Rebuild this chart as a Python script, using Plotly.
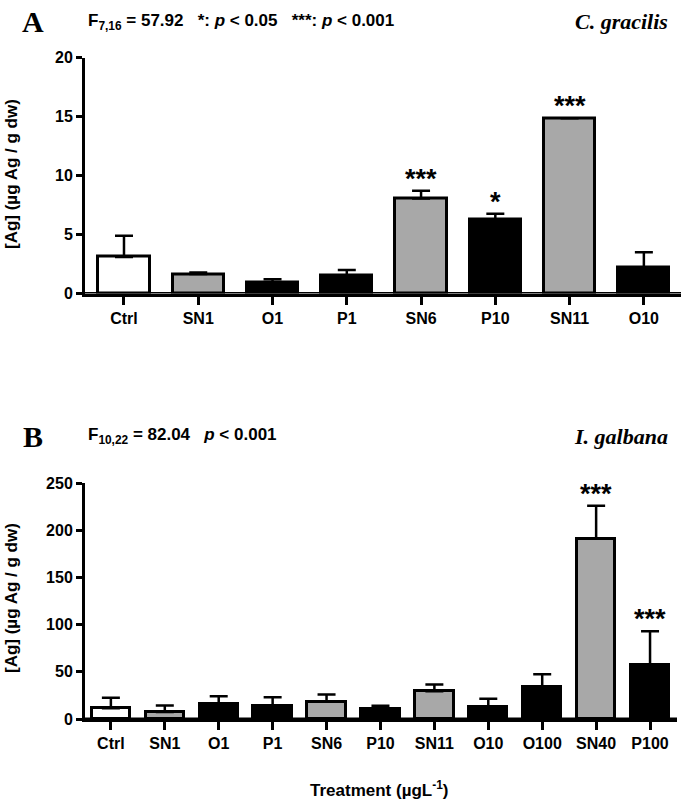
import plotly.graph_objects as go

# ---- data ----
cats_a = ["Ctrl", "SN1", "O1", "P1", "SN6", "P10", "SN11", "O10"]
vals_a = [3.1, 1.65, 0.95, 1.55, 8.05, 6.3, 14.85, 2.2]
errs_a = [1.8, 0.12, 0.25, 0.45, 0.65, 0.45, 0.0, 1.3]
fill_a = ["white", "grey", "black", "black", "grey", "black", "grey", "black"]
sig_a = ["", "", "", "", "***", "*", "***", ""]
yticks_a = [0, 5, 10, 15, 20]

cats_b = ["Ctrl", "SN1", "O1", "P1", "SN6", "P10", "SN11", "O10", "O100", "SN40", "P100"]
vals_b = [11.5, 7.5, 16.0, 14.0, 18.5, 11.0, 29.5, 13.0, 33.5, 191.0, 57.5]
errs_b = [11.0, 6.8, 8.0, 9.0, 7.5, 3.0, 7.0, 8.5, 14.0, 35.0, 35.5]
fill_b = ["white", "grey", "black", "black", "grey", "black", "grey", "black", "black", "grey", "black"]
sig_b = ["", "", "", "", "", "", "", "", "", "***", "***"]
yticks_b = [0, 50, 100, 150, 200, 250]

W, H = 683, 800
COLORS = {"white": "#ffffff", "grey": "#a8a8a8", "black": "#000000"}
SANS = "Liberation Sans, Arial, sans-serif"
SERIF = "Liberation Serif, Times New Roman, serif"


def px(x):
    return x / W


def py(y):
    return 1 - y / H


fig = go.Figure()


def add_panel(cats, vals, errs, fill, xa, ya, width):
    fig.add_trace(go.Bar(
        x=cats, y=vals, xaxis=xa, yaxis=ya, width=width, cliponaxis=False,
        marker=dict(color=[COLORS[c] for c in fill], line=dict(color="black", width=3)),
        error_y=dict(type="data", array=errs, arrayminus=[0] * len(errs), symmetric=False,
                     color="black", thickness=2.5, width=9),
        showlegend=False, hoverinfo="skip",
    ))


add_panel(cats_a, vals_a, errs_a, fill_a, "x", "y", 0.69)
add_panel(cats_b, vals_b, errs_b, fill_b, "x2", "y2", 0.71)

axis_common = dict(showline=True, linecolor="black", linewidth=3, ticks="outside",
                   tickcolor="black", tickwidth=3, showgrid=False, zeroline=False,
                   automargin=False,
                   tickfont=dict(family=SANS, size=16, color="black", weight="bold"))

fig.update_layout(
    width=W, height=H, plot_bgcolor="white", paper_bgcolor="white",
    margin=dict(l=0, r=0, t=0, b=0, autoexpand=False), bargap=0,
    xaxis=dict(domain=[px(85), px(681)], anchor="y", type="category",
               categoryorder="array", categoryarray=cats_a,
               range=[-0.525, 7.5], ticklen=8, **axis_common),
    yaxis=dict(domain=[py(293.5), py(57.5)], anchor="x", range=[0, 20],
               tickvals=yticks_a, ticklen=6, **axis_common),
    xaxis2=dict(domain=[px(85), px(677)], anchor="y2", type="category",
                categoryorder="array", categoryarray=cats_b,
                range=[-0.48, 10.5], ticklen=8, **axis_common),
    yaxis2=dict(domain=[py(719), py(483)], anchor="x2", range=[0, 250],
                tickvals=yticks_b, ticklen=6, **axis_common),
)

# baseline at y=0 drawn over bar bottoms
for xr, yr in (("x", "y"), ("x2", "y2")):
    fig.add_shape(type="line", xref="%s domain" % xr, yref=yr, x0=0, x1=1, y0=0, y1=0,
                  line=dict(color="black", width=3), layer="above")

ann = []
# significance stars
for cats, vals, errs, sig, xr, yr in [(cats_a, vals_a, errs_a, sig_a, "x", "y"),
                                      (cats_b, vals_b, errs_b, sig_b, "x2", "y2")]:
    for c, v, e, s in zip(cats, vals, errs, sig):
        if s:
            ann.append(dict(x=c, y=v + e, xref=xr, yref=yr, text="<b>%s</b>" % s, showarrow=False,
                            yanchor="middle", yshift=12,
                            font=dict(family=SANS, size=27, color="black")))

# panel headers
for letter, ftxt, species, yc in [
    ("A", "F<sub>7,16</sub> = 57.92   *: <i>p</i> &lt; 0.05   ***: <i>p</i> &lt; 0.001", "C. gracilis", 22),
    ("B", "F<sub>10,22</sub> = 82.04   <i>p</i> &lt; 0.001", "I. galbana", 436),
]:
    ann.append(dict(x=px(33), y=py(yc), xref="paper", yref="paper", text="<b>%s</b>" % letter,
                    showarrow=False, xanchor="center", yanchor="middle",
                    font=dict(family=SERIF, size=30, color="black")))
    ann.append(dict(x=px(86), y=py(yc), xref="paper", yref="paper", text="<b>%s</b>" % ftxt,
                    showarrow=False, xanchor="left", yanchor="middle",
                    font=dict(family=SANS, size=17, color="black")))
    ann.append(dict(x=px(670), y=py(yc), xref="paper", yref="paper",
                    text="<b><i>%s</i></b>" % species, showarrow=False,
                    xanchor="right", yanchor="middle",
                    font=dict(family=SERIF, size=22, color="black")))

# y axis titles
for yc in (174, 598):
    ann.append(dict(x=px(11), y=py(yc), xref="paper", yref="paper",
                    text="<b>[Ag] (µg Ag / g dw)</b>", textangle=-90, showarrow=False,
                    xanchor="center", yanchor="middle",
                    font=dict(family=SANS, size=17, color="black")))

# x axis title
ann.append(dict(x=px(379), y=py(789), xref="paper", yref="paper",
                text="<b>Treatment (µgL<sup>-1</sup>)</b>", showarrow=False,
                xanchor="center", yanchor="middle",
                font=dict(family=SANS, size=17, color="black")))

fig.update_layout(annotations=ann)
fig.write_html(
    "out.html",
    config={"displayModeBar": False},
    post_script="document.body.style.margin='0';document.body.style.overflow='hidden';",
)
